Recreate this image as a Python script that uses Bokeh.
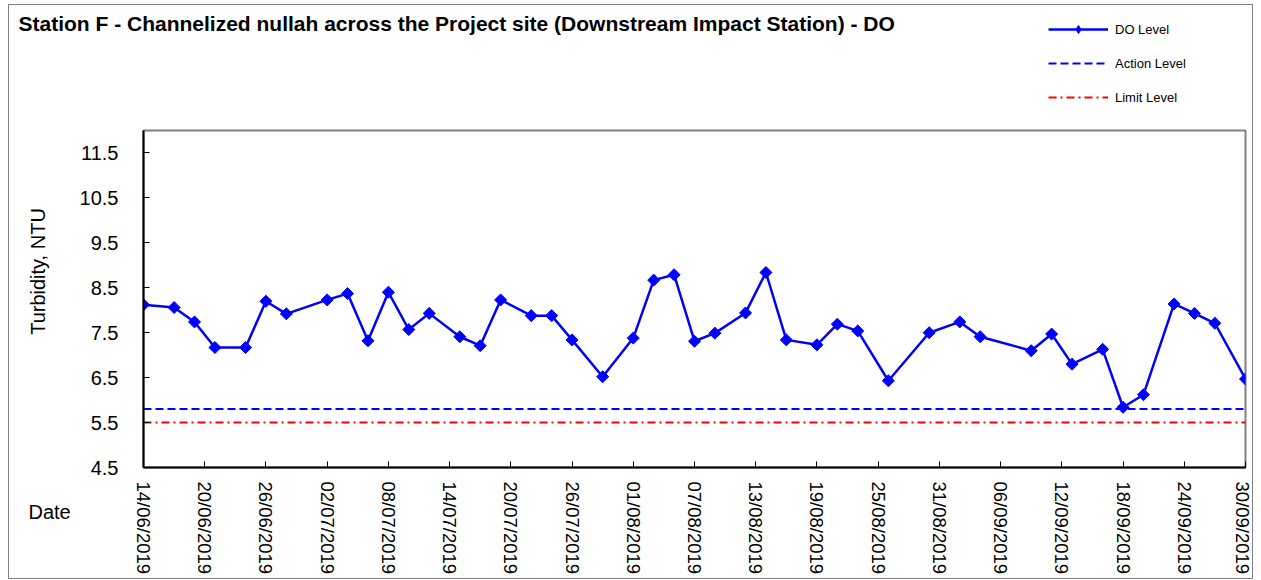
import numpy as np
import pandas as pd
from bokeh.plotting import figure
from bokeh.layouts import column, row
from bokeh.models import (Range1d, FixedTicker, DatetimeTickFormatter, Label,
                          Legend, LegendItem)
from bokeh.embed import file_html
from bokeh.resources import INLINE

# ---------------- data ----------------
dates = ["14/06/2019", "17/06/2019", "19/06/2019", "21/06/2019", "24/06/2019",
         "26/06/2019", "28/06/2019", "02/07/2019", "04/07/2019", "06/07/2019",
         "08/07/2019", "10/07/2019", "12/07/2019", "15/07/2019", "17/07/2019",
         "19/07/2019", "22/07/2019", "24/07/2019", "26/07/2019", "29/07/2019",
         "01/08/2019", "03/08/2019", "05/08/2019", "07/08/2019", "09/08/2019",
         "12/08/2019", "14/08/2019", "16/08/2019", "19/08/2019", "21/08/2019",
         "23/08/2019", "26/08/2019", "30/08/2019", "02/09/2019", "04/09/2019",
         "09/09/2019", "11/09/2019", "13/09/2019", "16/09/2019", "18/09/2019",
         "20/09/2019", "23/09/2019", "25/09/2019", "27/09/2019", "30/09/2019"]
do_values = [8.12, 8.06, 7.74, 7.17, 7.17, 8.20, 7.92, 8.23, 8.37, 7.32,
             8.40, 7.57, 7.93, 7.41, 7.21, 8.23, 7.88, 7.88, 7.34, 6.52,
             7.38, 8.67, 8.79, 7.31, 7.49, 7.94, 8.84, 7.34, 7.23, 7.69,
             7.54, 6.43, 7.50, 7.74, 7.41, 7.10, 7.47, 6.80, 7.13, 5.84,
             6.12, 8.14, 7.93, 7.71, 6.47]
action_level = 5.8
limit_level = 5.5
x_tick_labels = ["14/06/2019", "20/06/2019", "26/06/2019", "02/07/2019",
                 "08/07/2019", "14/07/2019", "20/07/2019", "26/07/2019",
                 "01/08/2019", "07/08/2019", "13/08/2019", "19/08/2019",
                 "25/08/2019", "31/08/2019", "06/09/2019", "12/09/2019",
                 "18/09/2019", "24/09/2019", "30/09/2019"]
y_ticks = [4.5, 5.5, 6.5, 7.5, 8.5, 9.5, 10.5, 11.5]
y_min, y_max = 4.5, 12.0

title_text = ("Station F - Channelized nullah across the Project site "
              "(Downstream Impact Station)  - DO")
y_label = "Turbidity, NTU"
x_label = "Date"
series_names = ["DO Level", "Action Level", "Limit Level"]


def to_ms(strs):
    return [pd.Timestamp(pd.to_datetime(s, format="%d/%m/%Y")).timestamp() * 1000.0
            for s in strs]


x = to_ms(dates)
ticks = to_ms(x_tick_labels)
act_y = [action_level, action_level]
lim_y = [limit_level, limit_level]
span_x = [x[0], x[-1]]

FONT = "Liberation Sans"
BLUE = "#0000FF"
RED = "#FF0000"

TOTAL_W = 1243
TOP_H = 110
BODY_H = 463
LEFT_W = 66


def blank_fig(w, h):
    f = figure(width=w, height=h, x_range=Range1d(0, w), y_range=Range1d(0, h),
               x_axis_location=None, y_axis_location=None,
               output_backend="svg", toolbar_location=None, min_border=0)
    f.grid.visible = False
    f.outline_line_color = None
    f.background_fill_color = "white"
    f.border_fill_color = "white"
    if "frame_align" in f.properties():
        f.frame_align = False
    return f


# ---------------- top strip: title + legend ----------------
top = blank_fig(TOTAL_W, TOP_H)
top.add_layout(Label(x=9, y=92, x_units="screen", y_units="screen",
                     text=title_text, text_font=FONT, text_font_size="21px",
                     text_font_style="bold", text_baseline="middle",
                     text_color="black"))
# legend renderers carry the real series (their data lie outside this strip's ranges)
lg_line = top.line(x, do_values, line_color=BLUE, line_width=2.5)
lg_pts = top.scatter(x, do_values, marker="diamond", size=11,
                     fill_color=BLUE, line_color=BLUE)
lg_act = top.line(span_x, act_y, line_color=BLUE, line_width=2, line_dash="8 4")
lg_lim = top.line(span_x, lim_y, line_color=RED, line_width=2, line_dash="8 4 2 4")
legend = Legend(items=[LegendItem(label=series_names[0], renderers=[lg_line, lg_pts], index=0),
                       LegendItem(label=series_names[1], renderers=[lg_act], index=0),
                       LegendItem(label=series_names[2], renderers=[lg_lim], index=0)],
                location=(1039, 8), glyph_width=60, glyph_height=20,
                label_standoff=7, spacing=14, padding=0, margin=0,
                border_line_color=None, background_fill_alpha=0,
                label_text_font=FONT, label_text_font_size="13px",
                label_text_color="black")
top.add_layout(legend)

# ---------------- left strip: y label + "Date" ----------------
left = blank_fig(LEFT_W, BODY_H)
left.add_layout(Label(x=28, y=307, x_units="screen", y_units="screen",
                      text=y_label, angle=np.pi / 2, text_font=FONT,
                      text_font_size="20px", text_align="center",
                      text_baseline="middle", text_color="black"))
left.add_layout(Label(x=19, y=67, x_units="screen", y_units="screen",
                      text=x_label, text_font=FONT, text_font_size="20px",
                      text_baseline="middle", text_color="black"))

# ---------------- main chart ----------------
p = figure(width=TOTAL_W - LEFT_W, height=BODY_H, x_axis_type="datetime",
           x_range=Range1d(start=ticks[0], end=ticks[-1]),
           y_range=Range1d(start=y_min, end=y_max),
           output_backend="svg", toolbar_location=None,
           min_border_left=68, min_border_top=15,
           min_border_right=7, min_border_bottom=111)
p.xgrid.visible = False
p.ygrid.visible = False
p.outline_line_color = "#808080"
p.outline_line_width = 2
p.background_fill_color = "white"
p.border_fill_color = "white"

xa = p.xaxis[0]
xa.ticker = FixedTicker(ticks=ticks)
fmt = "%d/%m/%Y"
xa.formatter = DatetimeTickFormatter(microseconds=fmt, milliseconds=fmt, seconds=fmt,
                                     minsec=fmt, minutes=fmt, hourmin=fmt, hours=fmt,
                                     days=fmt, months=fmt, years=fmt)
xa.major_label_orientation = "vertical"
xa.major_label_text_font = FONT
xa.major_label_text_font_size = "18.5px"
xa.major_label_text_color = "black"
xa.major_label_standoff = 14
xa.major_tick_in = 6
xa.major_tick_out = 0
xa.minor_tick_line_color = None
xa.axis_line_color = "black"
xa.axis_line_width = 2
xa.major_tick_line_color = "black"

ya = p.yaxis[0]
ya.ticker = FixedTicker(ticks=y_ticks)
ya.major_label_text_font = FONT
ya.major_label_text_font_size = "20px"
ya.major_label_text_color = "black"
ya.major_label_standoff = 25
ya.major_tick_in = 6
ya.major_tick_out = 0
ya.minor_tick_line_color = None
ya.axis_line_color = "black"
ya.axis_line_width = 2
ya.major_tick_line_color = "black"

p.line(span_x, act_y, line_color=BLUE, line_width=2, line_dash="8 4")
p.line(span_x, lim_y, line_color=RED, line_width=2, line_dash="8 4 2 4")
p.line(x, do_values, line_color=BLUE, line_width=2.5)
p.scatter(x, do_values, marker="square", angle=np.pi / 4, size=8.5,
          fill_color=BLUE, line_color=BLUE)

layout = column(top, row(left, p, spacing=0), spacing=0)
layout.styles = {"border": "1px solid #808080", "margin-left": "8px",
                 "margin-top": "4px"}

open("out.html", "w").write(file_html(layout, INLINE))
